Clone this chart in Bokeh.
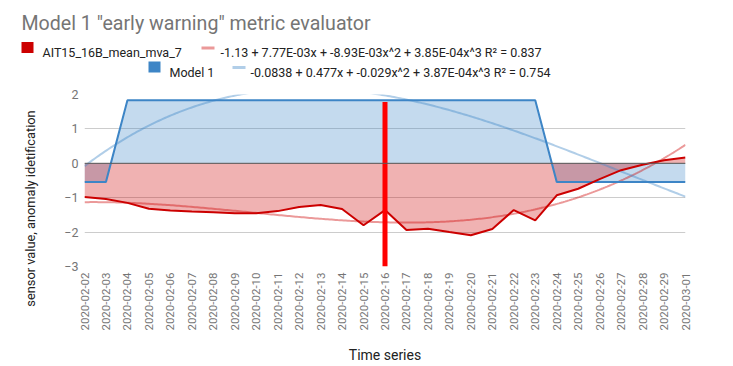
import numpy as np
from bokeh.plotting import figure
from bokeh.models import Range1d, FixedTicker, Span
from bokeh.layouts import column, row
from bokeh.core.properties import value
from bokeh.embed import file_html
from bokeh.resources import INLINE

# ---------------- data ----------------
dates = ["2020-02-02", "2020-02-03", "2020-02-04", "2020-02-05", "2020-02-06",
         "2020-02-07", "2020-02-08", "2020-02-09", "2020-02-10", "2020-02-11",
         "2020-02-12", "2020-02-13", "2020-02-14", "2020-02-15", "2020-02-16",
         "2020-02-17", "2020-02-18", "2020-02-19", "2020-02-20", "2020-02-21",
         "2020-02-22", "2020-02-23", "2020-02-24", "2020-02-25", "2020-02-26",
         "2020-02-27", "2020-02-28", "2020-02-29", "2020-03-01"]
sensor_values = [-0.98, -1.04, -1.15, -1.32, -1.37, -1.40, -1.42, -1.45, -1.45, -1.39,
                 -1.27, -1.21, -1.33, -1.80, -1.36, -1.94, -1.90, -2.00, -2.09, -1.91,
                 -1.36, -1.66, -0.93, -0.74, -0.46, -0.20, -0.04, 0.09, 0.17]
model_values = [-0.54, -0.54, 1.83, 1.83, 1.83, 1.83, 1.83, 1.83, 1.83, 1.83,
                1.83, 1.83, 1.83, 1.83, 1.83, 1.83, 1.83, 1.83, 1.83, 1.83,
                1.83, 1.83, -0.54, -0.54, -0.54, -0.54, -0.54, -0.54, -0.54]
# polynomial trendline coefficients (constant, x, x^2, x^3) as given in the legend
sensor_trend_coef = [-1.13, 7.77e-3, -8.93e-3, 3.85e-4]
model_trend_coef = [-0.0838, 0.477, -0.029, 3.87e-4]
y_ticks = [-3, -2, -1, 0, 1, 2]
marker_date = "2020-02-16"
marker_low = -3.0
marker_high = 1.78

title_text = 'Model 1 "early warning" metric evaluator'
sensor_name = "AIT15_16B_mean_mva_7"
model_name = "Model 1"
sensor_trend_label = "-1.13 + 7.77E-03x + -8.93E-03x^2 + 3.85E-04x^3 R\u00b2 = 0.837"
model_trend_label = "-0.0838 + 0.477x + -0.029x^2 + 3.87E-04x^3 R\u00b2 = 0.754"
x_title = "Time series"
y_title = "sensor value, anomaly idetification"

# ---------------- style ----------------
RED = "#cc0000"
BLUE = "#3d85c6"
FONT = "Roboto"
W, H = 733, 366
HEADER_H = 86
YLAB_W = 40

idx = list(range(len(dates)))


def blank(width, height):
    f = figure(width=width, height=height, output_backend="svg", toolbar_location=None,
               title=None,
               x_range=Range1d(0, width), y_range=Range1d(0, height),
               x_axis_location=None, y_axis_location=None,
               min_border=0, min_border_left=0, min_border_right=0,
               min_border_top=0, min_border_bottom=0)
    f.outline_line_color = None
    f.xgrid.visible = False
    f.ygrid.visible = False
    f.frame_align = False
    return f


# ---------------- header (title + legend), page pixel layout ----------------
hd = blank(W, HEADER_H)
hy = lambda y: HEADER_H - y  # page y -> header y (upwards)

hd.text(x=[21], y=[hy(23)], text=[title_text], text_font=value(FONT),
        text_font_size=value("19.6px"), text_color="#757575", text_baseline="alphabetic")
# legend row 1
hd.quad(left=[21], right=[33], top=[hy(41.5)], bottom=[hy(52.5)], fill_color=RED, line_color=None)
hd.text(x=[42], y=[hy(52)], text=[sensor_name], text_font=value(FONT),
        text_font_size=value("12.5px"), text_color="#222222", text_baseline="alphabetic")
hd.quad(left=[201], right=[214], top=[hy(46)], bottom=[hy(49)], fill_color=RED,
        fill_alpha=0.4, line_color=None)
hd.text(x=[220], y=[hy(52)], text=[sensor_trend_label], text_font=value(FONT),
        text_font_size=value("12.5px"), text_color="#222222", text_baseline="alphabetic")
# legend row 2
hd.quad(left=[148], right=[160], top=[hy(61)], bottom=[hy(72)], fill_color=BLUE, line_color=None)
hd.text(x=[169], y=[hy(71.5)], text=[model_name], text_font=value(FONT),
        text_font_size=value("12.5px"), text_color="#222222", text_baseline="alphabetic")
hd.quad(left=[232], right=[245], top=[hy(65.5)], bottom=[hy(68.5)], fill_color=BLUE,
        fill_alpha=0.4, line_color=None)
hd.text(x=[250], y=[hy(71.5)], text=[model_trend_label], text_font=value(FONT),
        text_font_size=value("12.5px"), text_color="#222222", text_baseline="alphabetic")

# ---------------- y axis title strip ----------------
BODY_H = H - HEADER_H
yl = blank(YLAB_W, BODY_H)
yl.text(x=[30], y=[H - 208], text=[y_title], angle=np.pi / 2, text_font=value(FONT),
        text_font_size=value("12.8px"), text_color="#222222",
        text_align="center", text_baseline="middle")

# ---------------- main chart ----------------
p = figure(width=W - YLAB_W, height=BODY_H, output_backend="svg", toolbar_location=None,
           title=None,
           x_range=Range1d(0, len(dates) - 1), y_range=Range1d(min(y_ticks), max(y_ticks)),
           min_border_left=44, min_border_right=48, min_border_top=8, min_border_bottom=100)
p.outline_line_color = None
p.frame_align = False

# areas
p.varea(x=idx, y1=0, y2=model_values, fill_color=BLUE, fill_alpha=0.3)
p.varea(x=idx, y1=0, y2=sensor_values, fill_color=RED, fill_alpha=0.3)

# baseline
p.add_layout(Span(location=0, dimension="width", line_color="#5a5a5a", line_width=1))

# trendlines
xs = np.linspace(0, len(dates) - 1, 300)
p.line(xs, np.polyval(sensor_trend_coef[::-1], xs), line_color=RED, line_alpha=0.4, line_width=2)
p.line(xs, np.polyval(model_trend_coef[::-1], xs), line_color=BLUE, line_alpha=0.4, line_width=2)

# series lines
p.line(idx, model_values, line_color=BLUE, line_width=2)
p.line(idx, sensor_values, line_color=RED, line_width=2)

# marker
mi = dates.index(marker_date)
p.segment(x0=[mi], y0=[marker_low], x1=[mi], y1=[marker_high], line_color="#ff0000", line_width=5)

# grids
p.xgrid.visible = False
p.ygrid.ticker = FixedTicker(ticks=y_ticks)
p.ygrid.grid_line_color = "#cccccc"

# axes
p.yaxis.ticker = FixedTicker(ticks=y_ticks)
p.xaxis.ticker = FixedTicker(ticks=idx)
p.xaxis.major_label_overrides = {i: d for i, d in enumerate(dates)}
p.xaxis.major_label_orientation = np.pi / 2
for ax in (p.xaxis[0], p.yaxis[0]):
    ax.axis_line_color = None
    ax.major_tick_line_color = None
    ax.minor_tick_line_color = None
    ax.major_tick_out = 0
    ax.major_tick_in = 0
    ax.major_label_text_font = FONT
    ax.major_label_text_color = "#757575"
    ax.major_label_standoff = 6
p.xaxis.major_label_text_font_size = "11.5px"
p.yaxis.major_label_text_font_size = "12.5px"
p.xaxis.axis_label = x_title
p.xaxis.axis_label_text_font = FONT
p.xaxis.axis_label_text_font_style = "normal"
p.xaxis.axis_label_text_color = "#222222"
p.xaxis.axis_label_text_font_size = "14px"
p.xaxis.axis_label_standoff = 13

layout = column(hd, row(yl, p))
open("out.html", "w").write(file_html(layout, INLINE))
